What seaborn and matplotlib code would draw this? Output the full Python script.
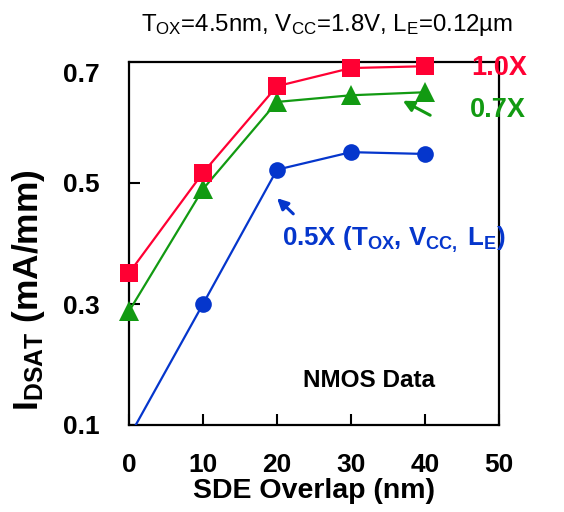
import matplotlib
matplotlib.use("Agg")
import matplotlib.pyplot as plt
from matplotlib.transforms import ScaledTranslation
import seaborn as sns
import pandas as pd

# SDE overlap (nm) and saturation drive current for three scaling factors
overlap = [0, 10, 20, 30, 40]
idsat_1p0x = [0.351, 0.517, 0.660, 0.690, 0.693]
idsat_0p7x = [0.288, 0.490, 0.634, 0.645, 0.650]
idsat_0p5x = [0.080, 0.300, 0.522, 0.551, 0.548]

x_ticks = [0, 10, 20, 30, 40, 50]
y_ticks = [0.1, 0.3, 0.5, 0.7]

sns.set_theme(style="white")
plt.rcParams["font.family"] = ["Liberation Sans", "DejaVu Sans"]
plt.rcParams["mathtext.fontset"] = "custom"
plt.rcParams["mathtext.rm"] = "Liberation Sans"
plt.rcParams["mathtext.bf"] = "Liberation Sans:bold"
plt.rcParams["mathtext.it"] = "Liberation Sans:italic"
for key in ("text.color", "axes.labelcolor", "xtick.color", "ytick.color"):
    plt.rcParams[key] = "black"

RED = "#ff0033"
GREEN = "#129a12"
BLUE = "#0536cc"

fig = plt.figure(figsize=(5.64, 5.12), dpi=100)
ax = fig.add_axes([129 / 564, 87 / 512, 370 / 564, 363 / 512])

df = pd.DataFrame({"overlap": overlap, "r": idsat_1p0x, "g": idsat_0p7x, "b": idsat_0p5x})

sns.lineplot(data=df, x="overlap", y="b", ax=ax, color=BLUE, lw=1.6,
             marker="o", markersize=12, markeredgewidth=0, markerfacecolor=BLUE,
             zorder=3)
sns.lineplot(data=df, x="overlap", y="g", ax=ax, color=GREEN, lw=1.6,
             marker="^", markersize=15, markeredgewidth=0, markerfacecolor=GREEN,
             zorder=4)
sns.lineplot(data=df, x="overlap", y="r", ax=ax, color=RED, lw=1.6,
             marker="s", markersize=13, markeredgewidth=0, markerfacecolor=RED,
             zorder=5)
for ln in ax.lines:
    ln.set_clip_on(False)
# the 0.5X curve starts below the axis floor; keep it clipped there
ax.lines[0].set_clip_on(True)

ax.set_xlim(0, 50)
ax.set_ylim(0.1, 0.7)
ax.set_xticks(x_ticks)
ax.set_yticks(y_ticks)
ax.set_xticklabels([str(v) for v in x_ticks], fontsize=19, fontweight="bold")
ax.set_yticklabels([f"{v:.1f}" for v in y_ticks], fontsize=19, fontweight="bold")
ax.tick_params(axis="both", direction="in", length=8, width=1.5, color="black",
               labelcolor="black", bottom=True, left=True, top=False, right=False)
ax.tick_params(axis="x", pad=20)
ax.tick_params(axis="y", pad=21)
# the top label sits a little below its tick
top_lbl = ax.get_yticklabels()[-1]
top_lbl.set_transform(top_lbl.get_transform()
                      + ScaledTranslation(0, -10 / 100, fig.dpi_scale_trans))
for sp in ax.spines.values():
    sp.set_color("black")
    sp.set_linewidth(1.6)
    sp.set_visible(True)

ax.set_xlabel("SDE Overlap (nm)", fontsize=20.5, fontweight="bold", labelpad=1,
              color="black")
ax.set_ylabel("")
fig.text(29 / 564, 1 - 290 / 512, r"I$_\mathbf{DSAT}$ (mA/mm)", rotation=90,
         fontsize=25.5, fontweight="bold", ha="center", va="center", color="black")

fig.text(327 / 564, 1 - 25 / 512,
         r"T$_\mathrm{OX}$=4.5nm, V$_\mathrm{CC}$=1.8V, L$_\mathrm{E}$=0.12µm",
         fontsize=17.3, ha="center", va="center", color="black")

ax.text(46.3, 0.69, "1.0X", color=RED, fontsize=19.5, fontweight="bold",
        ha="left", va="center", clip_on=False)
ax.text(46.1, 0.62, "0.7X", color=GREEN, fontsize=19.5, fontweight="bold",
        ha="left", va="center", clip_on=False)
ax.annotate("", xy=(37.0, 0.636), xytext=(40.7, 0.612),
            arrowprops=dict(arrowstyle="-|>", color=GREEN, lw=2.2,
                            mutation_scale=16, shrinkA=0, shrinkB=0))
ax.text(20.7, 0.406,
        r"0.5X (T$_\mathbf{OX}$, V$_\mathbf{CC,}$ L$_\mathbf{E}$)",
        color=BLUE, fontsize=18.6, fontweight="bold", ha="left", va="center")
ax.annotate("", xy=(20.0, 0.475), xytext=(22.2, 0.449),
            arrowprops=dict(arrowstyle="-|>", color=BLUE, lw=2.2,
                            mutation_scale=16, shrinkA=0, shrinkB=0))
ax.text(32.4, 0.173, "NMOS Data", color="black", fontsize=17.5, fontweight="bold",
        ha="center", va="center")

fig.savefig("out.png", dpi=100)
